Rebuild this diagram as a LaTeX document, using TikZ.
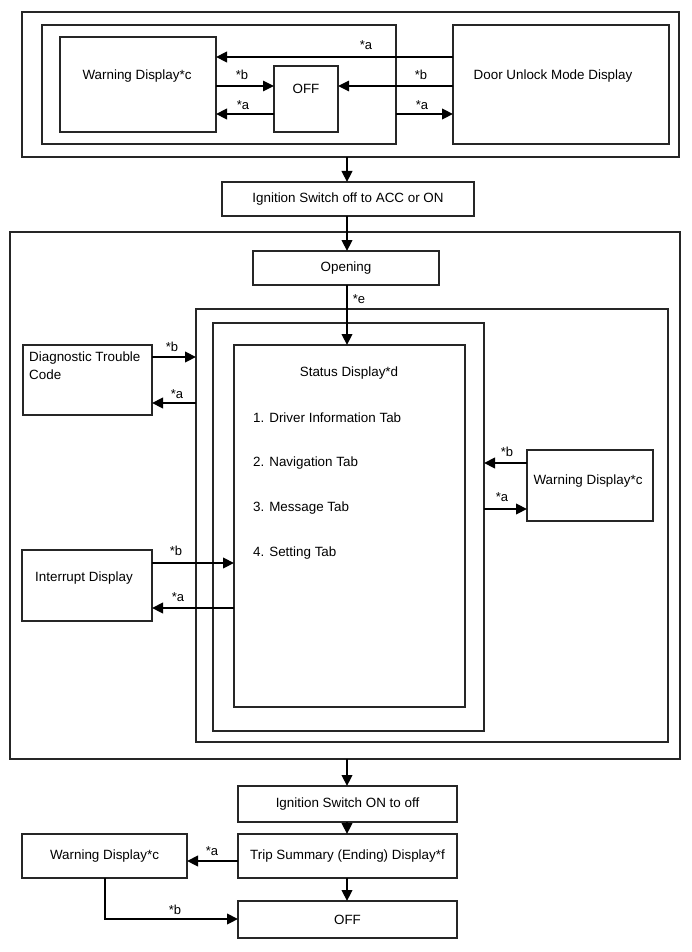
\documentclass[tikz,border=0pt]{standalone}
\usepackage{fontspec}
\setmainfont{Liberation Sans}
\usetikzlibrary{arrows.meta,fit}
\begin{document}
\begin{tikzpicture}[x=1pt,y=-1pt,
  box/.style={draw=black!85, line width=1.2pt, inner sep=0pt, outer sep=0pt},
  arr/.style={line width=2.3pt, -{Triangle[length=11pt,width=10.5pt]}},
  thinarr/.style={line width=1.5pt, -{Triangle[length=11pt,width=10.5pt]}},
  lbl/.style={font=\fontsize{13}{15}\selectfont, inner sep=0pt},
  txt/.style={font=\fontsize{13.4}{17}\selectfont, inner sep=0pt, align=left},
]
\useasboundingbox (0,0) rectangle (691,952);
% boxes
\node[box, fit={(22,12) (679,157)}] (topouter) {};
\node[box, fit={(42,25) (396,144)}] (topinner) {};
\node[box, fit={(60,37) (216,132)}] (warn1) {};
\node[box, fit={(274,66) (338,132)}] (off1) {};
\node[box, fit={(453,25) (669,144)}] (door) {};
\node[box, fit={(222,182) (474,216)}] (ign1) {};
\node[box, fit={(10,232) (680,759)}] (big) {};
\node[box, fit={(253,251) (439,285)}] (opening) {};
\node[box, fit={(196,309) (668,742)}] (boxA) {};
\node[box, fit={(213,323) (484,731)}] (boxB) {};
\node[box, fit={(234,345) (465,707)}] (status) {};
\node[box, fit={(23,345) (152,415)}] (dtc) {};
\node[box, fit={(527,450) (653,521)}] (warn2) {};
\node[box, fit={(22,550) (152,621)}] (intr) {};
\node[box, fit={(238,786) (457,822)}] (ign2) {};
\node[box, fit={(238,834) (457,878)}] (trip) {};
\node[box, fit={(22,834) (187,878)}] (warn3) {};
\node[box, fit={(238,901) (457,938)}] (off2) {};
% texts
\node[txt] (t1) at (137,76) {Warning Display*c};
\node[txt] (t2) at (306,89) {OFF};
\node[txt] (t3) at (553,76) {Door Unlock Mode Display};
\node[txt] (t4) at (ign1.center) {Ignition Switch off to ACC or ON};
\node[txt] (t5) at (opening.center) {Opening};
\node[txt, anchor=west] (t6) at (29,358) {Diagnostic Trouble};
\node[txt, anchor=west] (t6b) at (29,375) {Code};
\node[txt] (t7) at (349,373) {Status Display*d};
\node[txt, anchor=west] (i1) at (253,418) {1. Driver Information Tab};
\node[txt, anchor=west] (i2) at (253,463) {2. Navigation Tab};
\node[txt, anchor=west] (i3) at (253,508) {3. Message Tab};
\node[txt, anchor=west] (i4) at (253,553) {4. Setting Tab};
\node[txt] (t8) at (588,481) {Warning Display*c};
\node[txt] (t9) at (84,578) {Interrupt Display};
\node[txt] (t10) at (ign2.center) {Ignition Switch ON to off};
\node[txt] (t11) at (trip.center) {Trip Summary (Ending) Display*f};
\node[txt] (t12) at (warn3.center) {Warning Display*c};
\node[txt] (t13) at (off2.center) {OFF};
% arrows top
\draw[arr] (door.west |- 0,57) -- (warn1.east |- 0,57);
\draw[thinarr] (warn1.east |- 0,86) -- (off1.west |- 0,86);
\draw[thinarr] (door.west |- 0,86) -- (off1.east |- 0,86);
\draw[arr] (off1.west |- 0,114) -- (warn1.east |- 0,114);
\draw[arr] (topinner.east |- 0,114) -- (door.west |- 0,114);
\node[lbl] (la1) at (366,45) {*a};
\node[lbl] (lb1) at (242,75) {*b};
\node[lbl] (lb2) at (421,75) {*b};
\node[lbl] (la2) at (243,105) {*a};
\node[lbl] (la3) at (422,105) {*a};
% vertical flow
\draw[arr] (topouter.south -| 347,0) -- (ign1.north -| 347,0);
\draw[arr] (ign1.south -| 347,0) -- (opening.north -| 347,0);
\draw[arr] (opening.south -| 347,0) -- (status.north -| 347,0);
\node[lbl] (le) at (359,299) {*e};
% side arrows
\draw[arr] (dtc.east |- 0,357) -- (boxA.west |- 0,357);
\draw[arr] (boxA.west |- 0,403) -- (dtc.east |- 0,403);
\node[lbl] (lb3) at (172,347) {*b};
\node[lbl] (la4) at (177,394) {*a};
\draw[arr] (warn2.west |- 0,463) -- (boxB.east |- 0,463);
\draw[arr] (boxB.east |- 0,509) -- (warn2.west |- 0,509);
\node[lbl] (lb4) at (507,452) {*b};
\node[lbl] (la5) at (502,497) {*a};
\draw[arr] (intr.east |- 0,563) -- (status.west |- 0,563);
\draw[arr] (status.west |- 0,608) -- (intr.east |- 0,608);
\node[lbl] (lb5) at (176,551) {*b};
\node[lbl] (la6) at (178,597) {*a};
% bottom
\draw[arr] (big.south -| 347,0) -- (ign2.north -| 347,0);
\draw[arr] (ign2.south -| 347,0) -- (trip.north -| 347,0);
\draw[arr] (trip.south -| 347,0) -- (off2.north -| 347,0);
\draw[arr] (trip.west |- 0,861) -- (warn3.east |- 0,861);
\node[lbl] (la7) at (212,851) {*a};
\draw[arr] (warn3.south -| 105,0) |- (off2.west |- 0,919);
\node[lbl] (lb6) at (175,910) {*b};
\end{tikzpicture}
\end{document}
